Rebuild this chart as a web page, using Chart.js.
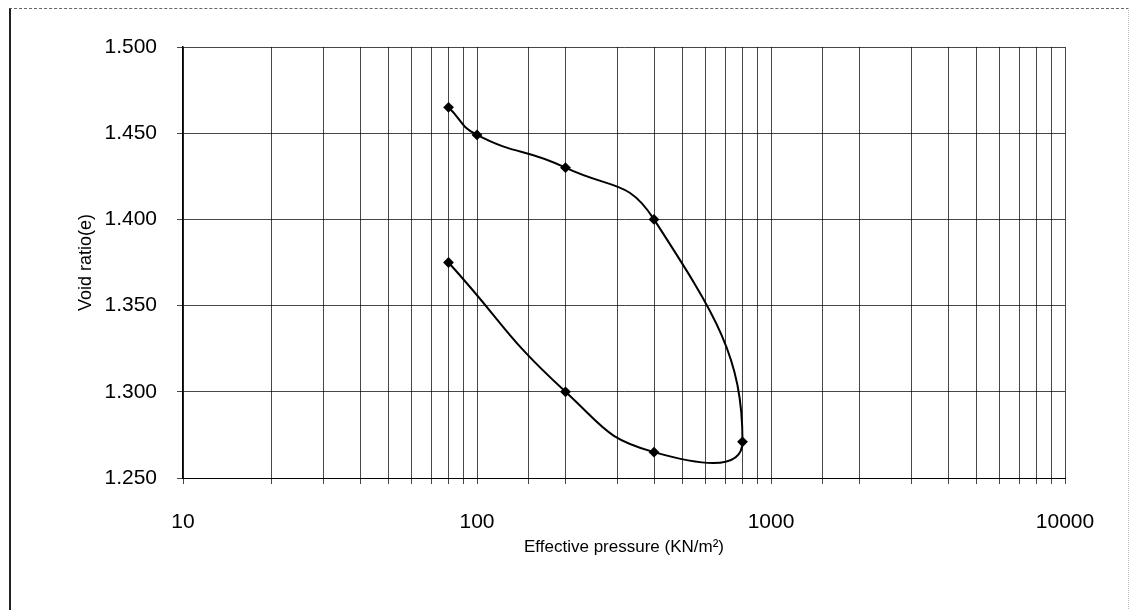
<!DOCTYPE html>
<html>
<head>
<meta charset="utf-8">
<script src="https://cdn.jsdelivr.net/npm/chart.js@4.4.1/dist/chart.umd.min.js"></script>
<style>
  body { margin: 0; background: #fff; }
  #wrap { position: relative; width: 1129px; height: 610px; }
  #frame {
    position: absolute; left: 9px; top: 8px; width: 1117px; height: 610px;
    border-left: 2px solid #222; border-top: 1px dashed #666; border-right: 1px dotted #bbb;
    pointer-events: none;
  }
</style>
</head>
<body>
<div id="wrap">
  <canvas id="oedometerChart" width="1129" height="610"></canvas>
  <div id="frame"></div>
</div>
<script>
// Consolidation test readings (loading then unloading)
const pressures = [80, 100, 200, 400, 800, 400, 200, 80];
const voidRatios = [1.465, 1.449, 1.430, 1.400, 1.271, 1.265, 1.300, 1.375];
const xTickLabels = [10, 100, 1000, 10000];

const points = pressures.map((p, i) => ({ x: p, y: voidRatios[i] }));

const font = 'Arial, "Liberation Sans", sans-serif';
const gridColor = 'rgba(0, 0, 0, 0.72)';

const ctx = document.getElementById('oedometerChart').getContext('2d');
new Chart(ctx, {
    type: 'scatter',
    data: {
        datasets: [
            {
                data: points,
                showLine: true,
                borderColor: '#000',
                borderWidth: 2,
                tension: 0.5,
                pointStyle: 'rectRot',
                pointRadius: 4,
                pointBackgroundColor: '#000',
                pointBorderColor: '#000',
            }
        ]
    },
    options: {
        responsive: false,
        animation: false,
        layout: {
            padding: { left: 75, top: 47, right: 64, bottom: 52 }
        },
        plugins: {
            legend: { display: false },
            tooltip: { enabled: false }
        },
        scales: {
            x: {
                type: 'logarithmic',
                min: 10,
                max: 10000,
                afterFit: scale => { scale.height = 80; },
                border: { color: '#000', width: 1 },
                grid: { color: gridColor, lineWidth: 1, tickLength: 6 },
                ticks: {
                    autoSkip: false,
                    maxRotation: 0,
                    padding: 26,
                    color: '#000',
                    font: { family: font, size: 21 },
                    callback: value => xTickLabels.includes(value) ? String(value) : ''
                },
                title: {
                    display: true,
                    text: 'Effective pressure (KN/m²)',
                    color: '#000',
                    font: { family: font, size: 17 },
                    padding: 0
                }
            },
            y: {
                min: 1.25,
                max: 1.5,
                afterFit: scale => { scale.width = 108; },
                border: { color: '#000', width: 1.5 },
                grid: { color: gridColor, lineWidth: 1, tickLength: 6 },
                ticks: {
                    stepSize: 0.05,
                    padding: 20,
                    color: '#000',
                    font: { family: font, size: 21 },
                    callback: value => value.toFixed(3)
                },
                title: {
                    display: true,
                    text: 'Void ratio(e)',
                    color: '#000',
                    font: { family: font, size: 18 },
                    padding: 0
                }
            }
        }
    }
});
</script>
</body>
</html>
